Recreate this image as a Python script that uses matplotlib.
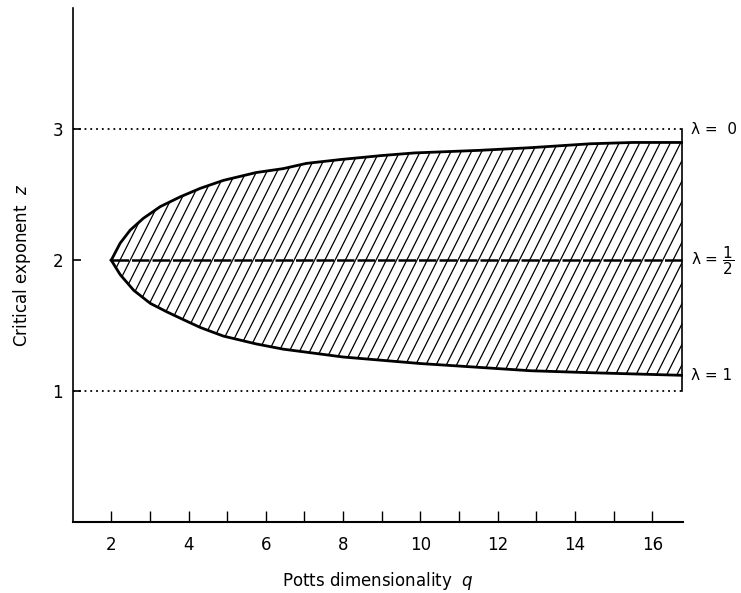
import numpy as np
import matplotlib
matplotlib.use('Agg')
import matplotlib.pyplot as plt
from matplotlib.patches import Polygon

plt.rcParams['font.family'] = ['DejaVu Sans']
plt.rcParams['mathtext.fontset'] = 'dejavusans'

# upper boundary (lambda = 0)
q_upper = [2.0, 2.23, 2.49, 2.83, 3.27, 3.79, 4.31, 4.9, 5.75, 6.45, 7.05,
           7.95, 9.0, 9.85, 10.7, 11.55, 12.85, 14.4, 15.5, 16.77]
z_upper = [2.0, 2.13, 2.23, 2.32, 2.41, 2.485, 2.55, 2.61, 2.67, 2.70, 2.74,
           2.77, 2.80, 2.82, 2.83, 2.84, 2.86, 2.89, 2.90, 2.90]

# lower boundary (lambda = 1)
q_lower = [2.0, 2.23, 2.58, 3.01, 3.44, 3.87, 4.31, 4.9, 5.75, 6.45, 8.0,
           10.0, 11.3, 12.85, 14.4, 16.77]
z_lower = [2.0, 1.89, 1.77, 1.67, 1.605, 1.545, 1.485, 1.42, 1.36, 1.32, 1.26,
           1.21, 1.185, 1.155, 1.14, 1.12]

q_end = 16.77
bounds_z = [1, 3]
x_ticks = list(range(2, 17))
x_labels = [str(t) if t % 2 == 0 else '' for t in x_ticks]
y_ticks = [1, 2, 3]
lam_labels = [(3.0, 'λ =  0'), (2.0, r'λ = $\dfrac{1}{2}$'), (1.12, 'λ = 1')]

fig = plt.figure(figsize=(7.41, 5.93), dpi=100)
ax = fig.add_axes([0.098, 0.12, 0.824, 0.867])
ax.set_xlim(1, 16.8)
ax.set_ylim(0, 3.93)

# dotted bounds z=1 and z=3
for zb in bounds_z:
    ax.plot([1, q_end], [zb, zb], color='k', lw=1.3, ls=(0, (1, 2.2)))
ax.plot([q_end, q_end], [1, 3], color='k', lw=1.2)

# hatched region between the two curves
poly_xy = np.column_stack([np.r_[q_upper, q_lower[::-1]],
                           np.r_[z_upper, z_lower[::-1]]])
region = Polygon(poly_xy, closed=True, facecolor='none', edgecolor='none')
ax.add_patch(region)
slope = 0.589
for c in np.arange(-7, 17.5, 0.265):
    ln, = ax.plot([c, c + 4 / slope], [0, 4], color='k', lw=0.9)
    ln.set_clip_path(region)

ax.plot(q_upper, z_upper, color='k', lw=2)
ax.plot(q_lower, z_lower, color='k', lw=2)
ax.plot([2, q_end], [2, 2], color='k', lw=1.8, ls=(0, (7, 1.2)))

for zl, txt in lam_labels:
    ax.text(17.0, zl, txt, fontsize=11, va='center', ha='left', clip_on=False)

ax.spines['top'].set_visible(False)
ax.spines['right'].set_visible(False)
ax.spines['left'].set_linewidth(1.2)
ax.spines['bottom'].set_linewidth(1.5)

ax.set_xticks(x_ticks)
ax.set_xticklabels(x_labels)
ax.set_yticks(y_ticks)
ax.tick_params(axis='x', direction='in', length=8, width=1, labelsize=12, pad=10)
ax.tick_params(axis='y', direction='in', length=6, width=1.2, labelsize=12, pad=7)

ax.set_xlabel(r'Potts dimensionality  $q$', fontsize=12, labelpad=12)
ax.set_ylabel(r'Critical exponent  $z$', fontsize=12, labelpad=14)

fig.savefig('out.png', dpi=100)
